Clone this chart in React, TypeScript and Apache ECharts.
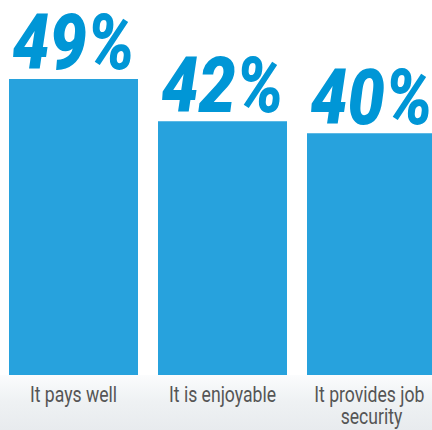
import React, { useEffect, useRef } from "react";
import * as echarts from "echarts";

const categories = ["It pays well", "It is enjoyable", "It provides job security"];
const values = [49, 42, 40];

export default function App() {
  const ref = useRef<HTMLDivElement>(null);
  useEffect(() => {
    const chart = echarts.init(ref.current!, null, { renderer: "svg" });
    const bg = {
      type: "rect",
      z: -10,
      shape: { x: 0, y: 375, width: 460, height: 55 },
      style: {
        fill: new echarts.graphic.LinearGradient(0, 0, 0, 1, [
          { offset: 0, color: "#fbfcfd" },
          { offset: 0.5, color: "#eef1f3" },
          { offset: 1, color: "#e8ebee" },
        ]),
      },
    };
    chart.setOption({
      animation: false,
      backgroundColor: "#ffffff",
      graphic: [bg],
      grid: { left: 0, right: 0, top: 79, bottom: 55, containLabel: false },
      xAxis: {
        type: "category",
        data: categories,
        axisLine: { show: false },
        axisTick: { show: false },
        axisLabel: { show: false },
      },
      yAxis: {
        type: "value",
        min: 0,
        max: 49,
        show: false,
        splitLine: { show: false },
      },
      series: [
        {
          type: "bar",
          data: values,
          barWidth: 129,
          itemStyle: { color: "#27a2dd" },
        },
      ],
    });
    const texts: any[] = [];
    values.forEach((v, i) => {
      const p = chart.convertToPixel({ seriesIndex: 0 }, [i, v]) as number[];
      texts.push({
        type: "text",
        x: p[0],
        y: p[1] - 4,
        scaleX: 0.975,
        scaleY: 1.15,
        style: {
          text: v + "%",
          fill: "#0096d6",
          fontFamily: "Roboto, sans-serif",
          fontWeight: 900,
          fontStyle: "italic",
          fontSize: 68,
          lineHeight: 56,
          textAlign: "center",
          textVerticalAlign: "bottom",
        },
      });
    });
    categories.forEach((c, i) => {
      const p = chart.convertToPixel({ seriesIndex: 0 }, [i, 0]) as number[];
      texts.push({
        type: "text",
        x: p[0],
        y: p[1] + 9,
        scaleX: 0.8,
        style: {
          text: c,
          fill: "#555555",
          fontFamily: "Roboto, sans-serif",
          fontSize: 22,
          lineHeight: 22,
          width: 150,
          overflow: "break",
          textAlign: "center",
          textVerticalAlign: "top",
        },
      });
    });
    chart.setOption({ graphic: [bg, ...texts] });
    return () => chart.dispose();
  }, []);
  return (
    <div style={{ width: 432, height: 430, position: "absolute", left: 0, top: 0, overflow: "hidden" }}>
      <div ref={ref} style={{ width: 447, height: 430, position: "absolute", left: -1, top: 0 }} />
    </div>
  );
}
